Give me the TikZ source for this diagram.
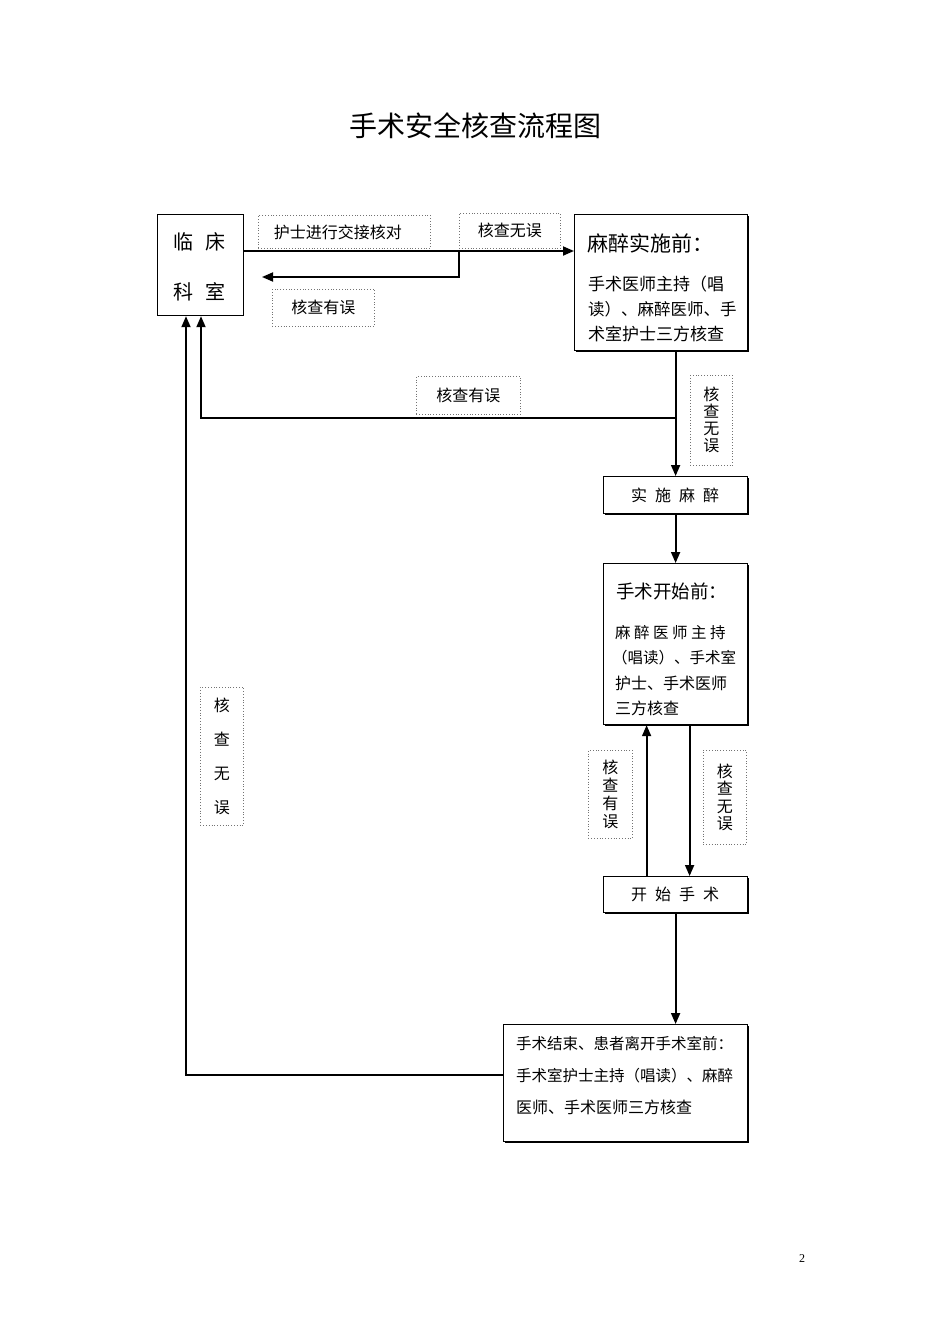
\documentclass[tikz,border=0pt]{standalone}
\usepackage{fontspec}
\newfontfamily\cjk{Noto Sans CJK SC}
\newfontfamily\pgserif{Liberation Serif}
\usetikzlibrary{arrows.meta,shadows}
\newcommand\sgap{\hspace{8pt}}
\begin{document}
\begin{tikzpicture}[x=1pt,y=-1pt,
  box/.style={draw, line width=1.2pt, fill=white, inner sep=0pt, anchor=north west},
  sbox/.style={box, general shadow={shadow xshift=1.2pt, shadow yshift=-1.2pt, fill=black}},
  dbox/.style={draw=black!55, dotted, line width=0.8pt, fill=white, inner sep=0pt, anchor=north west, align=center, font=\cjk\fontsize{16pt}{18pt}\selectfont},
  arr/.style={line width=1.8pt, -{Triangle[length=11pt,width=9pt]}},
  txt/.style={inner sep=0pt, anchor=west, font=\cjk\fontsize{16pt}{18pt}\selectfont},
  ctxt/.style={txt, anchor=center}]
\fill[white] (0,0) rectangle (950,1344);
\useasboundingbox (0,0) rectangle (950,1344);

% title
\node[ctxt, font=\cjk\fontsize{28pt}{30pt}\selectfont] (title) at (475,126) {手术安全核查流程图};

% dotted label boxes
\node[dbox, minimum width=172pt, minimum height=33pt, text depth=-1pt] (d1) at (258,215) {护士进行交接核对\hspace{13pt}};
\node[dbox, minimum width=101pt, minimum height=35pt] (d2) at (459,213) {核查无误};
\node[dbox, minimum width=102pt, minimum height=37pt] (d3) at (272,289) {核查有误};
\node[dbox, minimum width=104pt, minimum height=38pt] (d4) at (416,376) {核查有误};
\node[dbox, minimum width=42pt, minimum height=90pt, font=\cjk\fontsize{16pt}{17pt}\selectfont] (d5) at (690,375) {核\\查\\无\\误};
\node[dbox, minimum width=43pt, minimum height=138pt, font=\cjk\fontsize{16pt}{34pt}\selectfont] (d6) at (200,687) {核\\查\\无\\误};
\node[dbox, minimum width=44pt, minimum height=88pt, font=\cjk\fontsize{16pt}{18pt}\selectfont] (d7) at (588,750) {核\\查\\有\\误};
\node[dbox, minimum width=43pt, minimum height=94pt, font=\cjk\fontsize{16pt}{17.5pt}\selectfont] (d8) at (703,750) {核\\查\\无\\误};

% main boxes
\node[box, minimum width=86pt, minimum height=101pt] (lc) at (157,214) {};
\node[ctxt, font=\cjk\fontsize{20pt}{22pt}\selectfont] (lc1) at (199,242) {临\hspace{12pt}床};
\node[ctxt, font=\cjk\fontsize{20pt}{22pt}\selectfont] (lc2) at (199,292) {科\hspace{12pt}室};

\node[sbox, minimum width=173pt, minimum height=136pt] (ma) at (574,214) {};
\node[txt, font=\cjk\fontsize{21pt}{23pt}\selectfont] (ma0) at (587,243) {麻醉实施前：};
\node[txt, font=\cjk\fontsize{17pt}{19pt}\selectfont] (ma1) at (588,284) {手术医师主持（唱};
\node[txt, font=\cjk\fontsize{16.5pt}{19pt}\selectfont] (ma2) at (588,309) {读）、麻醉医师、手};
\node[txt, font=\cjk\fontsize{17pt}{19pt}\selectfont] (ma3) at (588,334) {术室护士三方核查};

\node[sbox, minimum width=144pt, minimum height=37pt] (ss) at (603,476) {};
\node[ctxt] (ss1) at (675,495) {实\sgap 施\sgap 麻\sgap 醉};

\node[sbox, minimum width=144pt, minimum height=161pt] (sq) at (603,563) {};
\node[txt, font=\cjk\fontsize{18.5pt}{21pt}\selectfont] (sq0) at (616,591) {手术开始前：};
\node[txt, font=\cjk\fontsize{15.5pt}{18pt}\selectfont] (sq1) at (615,633) {麻 醉 医 师 主 持};
\node[txt, font=\cjk\fontsize{15.5pt}{18pt}\selectfont] (sq2) at (612,658) {（唱读）、手术室};
\node[txt, font=\cjk\fontsize{16pt}{18pt}\selectfont] (sq3) at (615,683) {护士、手术医师};
\node[txt, font=\cjk\fontsize{16pt}{18pt}\selectfont] (sq4) at (615,708) {三方核查};

\node[sbox, minimum width=144pt, minimum height=36pt] (ks) at (603,876) {};
\node[ctxt] (ks1) at (675,894) {开\sgap 始\sgap 手\sgap 术};

\node[sbox, minimum width=244pt, minimum height=117pt] (end) at (503,1024) {};
\node[txt, font=\cjk\fontsize{15.5pt}{18pt}\selectfont] (e1) at (516,1044) {手术结束、患者离开手术室前：};
\node[txt, font=\cjk\fontsize{15.5pt}{18pt}\selectfont] (e2) at (516,1076) {手术室护士主持（唱读）、麻醉};
\node[txt, font=\cjk\fontsize{16pt}{18pt}\selectfont] (e3) at (516,1107) {医师、手术医师三方核查};

% connectors
\draw[arr] ([yshift=-37pt]lc.north east) -- ([yshift=-37pt]ma.north west);
\coordinate (j1) at (459,251);
\coordinate (r1) at (262,277);
\draw[arr] (j1) |- (r1);
\draw[arr] (ma.south -| ss.north) -- (ss.north);
\coordinate (b1) at (675,418);
\draw[arr] (b1) -| ([xshift=44pt]lc.south west);
\draw[arr] (ss.south) -- (sq.north);
\draw[arr] ([xshift=-29pt]ks.north) -- ([xshift=-29pt]sq.south);
\draw[arr] ([xshift=14pt]sq.south) -- ([xshift=14pt]ks.north);
\draw[arr] (ks.south) -- (ks.south |- end.north);
\draw[arr] ([yshift=8.5pt]end.west) -| ([xshift=29pt]lc.south west);

% page number
\node[inner sep=0pt, font=\pgserif\fontsize{12pt}{14pt}\selectfont] (pg) at (802,1259) {2};
\end{tikzpicture}
\end{document}
